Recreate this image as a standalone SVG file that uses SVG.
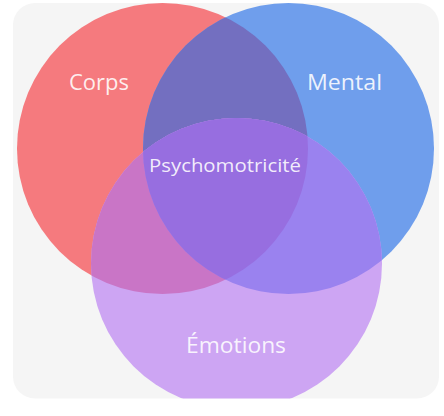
<svg xmlns="http://www.w3.org/2000/svg" width="444" height="416" viewBox="0 0 444 416">
  <style>
    .lbl { font-family: "Open Sans", "Liberation Sans", sans-serif; fill: #ffffff; fill-opacity: 0.88; text-anchor: middle; }
  </style>
  <defs>
    <clipPath id="bg"><rect x="13" y="3" width="426" height="395.5" rx="22"/></clipPath>
    <clipPath id="cR"><circle cx="162.5" cy="148.5" r="145.5"/></clipPath>
    <clipPath id="cB"><circle cx="288.5" cy="148.5" r="145.5"/></clipPath>
    <clipPath id="cP"><circle cx="236.5" cy="263.5" r="145.5"/></clipPath>
  </defs>
  <rect width="444" height="416" fill="#ffffff"/>
  <rect x="13" y="3" width="426" height="395.5" rx="22" fill="#f5f5f5"/>
  <g clip-path="url(#bg)">
    <g id="corps">
      <circle cx="162.5" cy="148.5" r="145.5" fill="#f57a7e"/>
    </g>
    <g id="mental">
      <circle cx="288.5" cy="148.5" r="145.5" fill="#6f9eec"/>
      <g clip-path="url(#cR)"><circle cx="288.5" cy="148.5" r="145.5" fill="#736fc0"/></g>
    </g>
    <g id="emotions">
      <circle cx="236.5" cy="263.5" r="145.5" fill="#cda5f3"/>
      <g clip-path="url(#cR)"><circle cx="236.5" cy="263.5" r="145.5" fill="#c975c6"/></g>
      <g clip-path="url(#cB)"><circle cx="236.5" cy="263.5" r="145.5" fill="#9a82ef"/></g>
      <g clip-path="url(#cR)"><g clip-path="url(#cB)"><circle cx="236.5" cy="263.5" r="145.5" fill="#976ee0"/></g></g>
    </g>
  </g>
  <g id="labels">
    <text class="lbl" x="99" y="90" font-size="21" textLength="60" lengthAdjust="spacingAndGlyphs">Corps</text>
    <text class="lbl" x="344.5" y="90" font-size="22" textLength="75" lengthAdjust="spacingAndGlyphs">Mental</text>
    <text class="lbl" x="225" y="172" font-size="19" textLength="152" lengthAdjust="spacingAndGlyphs">Psychomotricité</text>
    <text class="lbl" x="236" y="353" font-size="22" textLength="100" lengthAdjust="spacingAndGlyphs">Émotions</text>
  </g>
</svg>
